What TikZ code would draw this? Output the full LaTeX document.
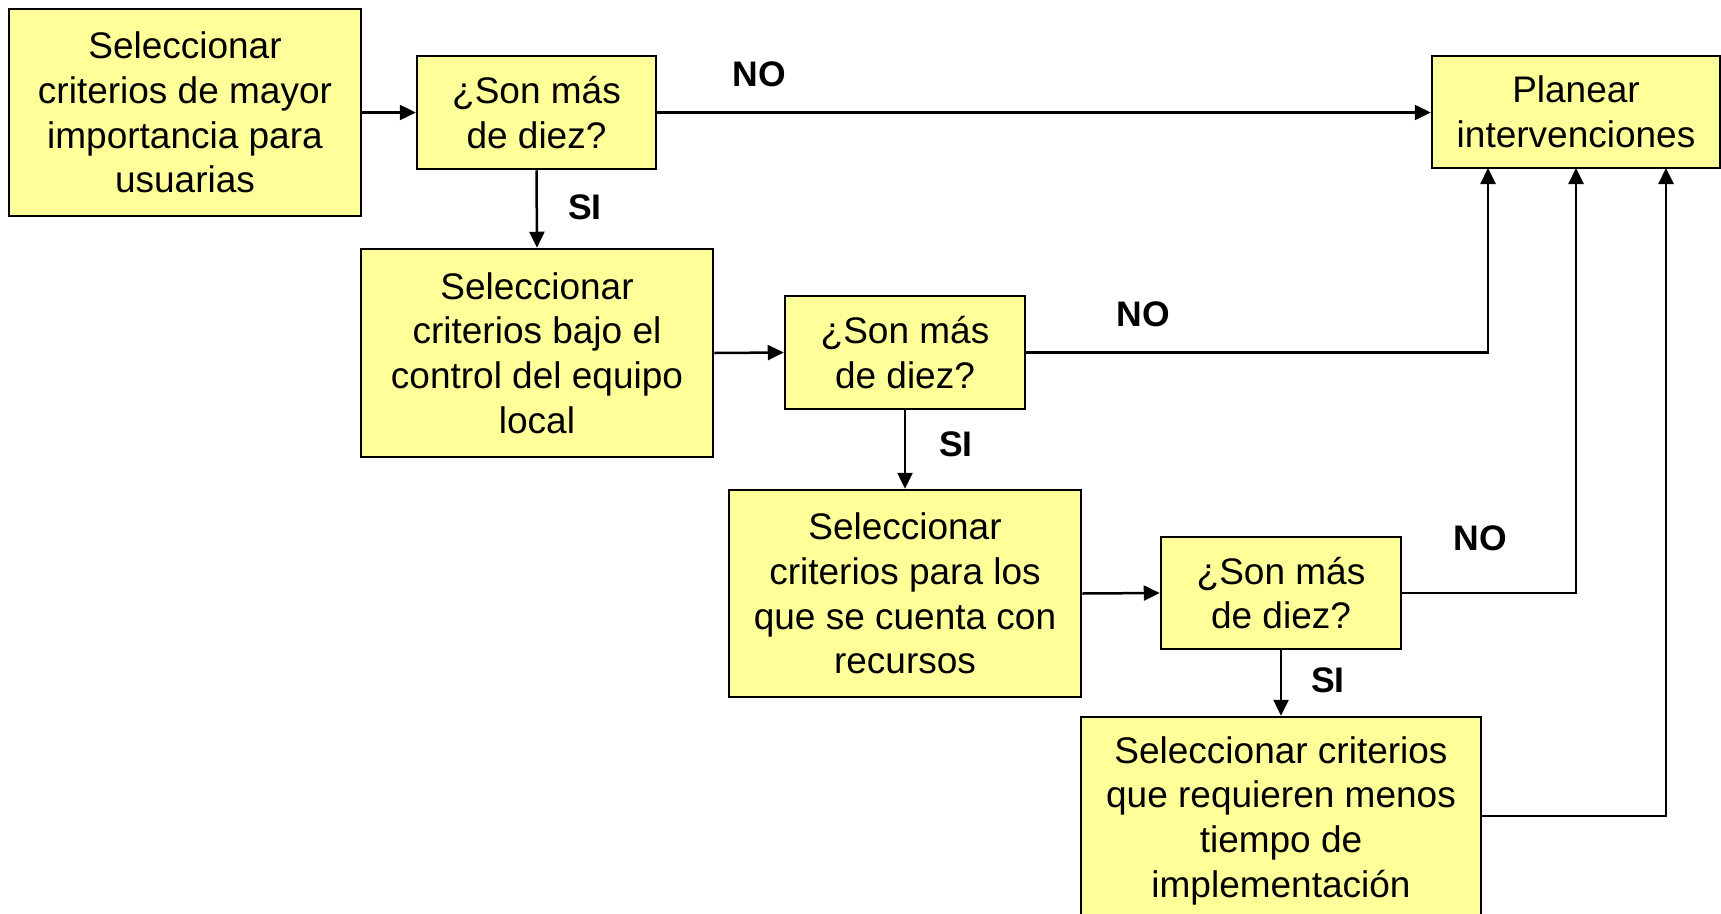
\documentclass[tikz,border=0pt]{standalone}
\usepackage{fontspec}
\setmainfont{Liberation Sans}
\usetikzlibrary{arrows.meta}
\definecolor{boxfill}{HTML}{FFFF99}
\tikzset{
  box/.style={draw=black, line width=2.5pt, fill=boxfill, align=center, inner sep=0pt,
    font=\fontsize{37}{44.7}\selectfont},
  bigbox/.style={box, minimum width=352pt, minimum height=207pt},
  qbox/.style={box, minimum width=240pt, minimum height=112pt},
  arr/.style={line width=2.5pt, -{Triangle[length=16pt,width=15pt]}},
  lbl/.style={font=\fontsize{35.5}{40}\selectfont\bfseries, inner sep=0pt}
}
\begin{document}
\begin{tikzpicture}[x=1pt,y=1pt]
\clip (0,0) rectangle (1721,-913);
\fill[white] (0,0) rectangle (1721,-913);
\node[bigbox] (B1) at (185,-112.5) {Seleccionar\\criterios de mayor\\importancia para\\usuarias};
\node[qbox, minimum width=239pt, minimum height=113pt] (D1) at (536.5,-112.5) {¿Son más\\de diez?};
\node[box, minimum width=288pt, minimum height=112pt] (P) at (1576,-112) {Planear\\intervenciones};
\node[bigbox, minimum height=208pt] (B2) at (537,-353) {Seleccionar\\criterios bajo el\\control del equipo\\local};
\node[qbox, minimum height=113pt] (D2) at (905,-352.5) {¿Son más\\de diez?};
\node[bigbox] (B3) at (905,-593.5) {Seleccionar\\criterios para los\\que se cuenta con\\recursos};
\node[qbox] (D3) at (1281,-593) {¿Son más\\de diez?};
\node[box, minimum width=400pt, minimum height=207pt] (B4) at (1281,-820.5) {Seleccionar criterios\\que requieren menos\\tiempo de\\implementación};
\coordinate (p1) at (1488,-168);
\coordinate (p2) at (1576,-168);
\coordinate (p3) at (1666,-168);
\draw[arr] (B1.east) -- (D1.west);
\draw[arr] (D1.east) -- (D1.east -| P.west);
\draw[arr] (D1.south) -- (B2.north);
\draw[arr] (B2.east) -- (D2.west);
\draw[arr] (D2.east) -| (p1);
\draw[arr] (D2.south) -- (B3.north);
\draw[arr] (B3.east) -- (D3.west);
\draw[arr] (D3.east) -| (p2);
\draw[arr] (D3.south) -- (B4.north);
\draw[arr] ([yshift=4.5pt]B4.east) -| (p3);
\node[lbl] (no1) at (759.5,-74.6) {NO};
\node[lbl] (si1) at (585,-207) {SI};
\node[lbl] (no2) at (1143.6,-314) {NO};
\node[lbl] (si2) at (956,-444.5) {SI};
\node[lbl] (no3) at (1480,-538) {NO};
\node[lbl] (si3) at (1328,-680.5) {SI};
\end{tikzpicture}
\end{document}
